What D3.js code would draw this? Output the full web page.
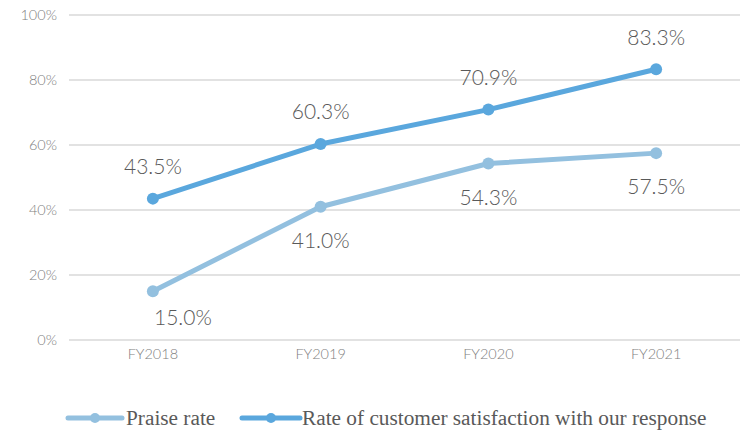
<!DOCTYPE html>
<html>
<head>
<meta charset="utf-8">
<script src="https://cdn.jsdelivr.net/npm/d3@7"></script>
<style>
  html, body { margin: 0; padding: 0; background: #fff; }
  svg { display: block; }
</style>
</head>
<body>
<svg id="chart" width="743" height="430"></svg>
<script>
const categories = ["FY2018", "FY2019", "FY2020", "FY2021"];
const praiseRate = [15.0, 41.0, 54.3, 57.5];
const satisfactionRate = [43.5, 60.3, 70.9, 83.3];
const yTicks = [0, 20, 40, 60, 80, 100];
const seriesNames = ["Praise rate", "Rate of customer satisfaction with our response"];

const svg = d3.select("#chart");
const margin = { left: 69, right: 3, top: 15, bottom: 90 };
const W = 743, H = 430;

const x = d3.scaleBand().domain(categories).range([margin.left, W - margin.right]);
const y = d3.scaleLinear().domain([0, 100]).range([H - margin.bottom, margin.top]);

const axisFont = "Lato, 'Open Sans', sans-serif";

// horizontal grid
svg.append("g")
  .selectAll("line")
  .data(yTicks)
  .join("line")
  .attr("x1", margin.left).attr("x2", W - margin.right)
  .attr("y1", d => y(d)).attr("y2", d => y(d))
  .attr("stroke", "#d9d9d9").attr("stroke-width", 1.3);

// y axis labels
const yAxis = d3.axisLeft(y).tickValues(yTicks).tickFormat(d => d + "%").tickSize(0).tickPadding(12);
const gy = svg.append("g").attr("transform", `translate(${margin.left},0)`).call(yAxis);
gy.select(".domain").remove();
gy.selectAll("text").attr("font-family", axisFont).attr("font-size", 14.5).attr("fill", "#808080").attr("font-weight", 300);

// x axis labels
const xAxis = d3.axisBottom(x).tickSize(0).tickPadding(9);
const gx = svg.append("g").attr("transform", `translate(0,${y(0)})`).call(xAxis);
gx.select(".domain").remove();
gx.selectAll("text").attr("font-family", axisFont).attr("font-size", 14.5).attr("fill", "#808080").attr("font-weight", 300);

const cx = d => x(d) + x.bandwidth() / 2;
const line = d3.line().x(d => cx(d.c)).y(d => y(d.v));

// label placement per series; the first praise label sits to the right of its point
const series = [
  { name: seriesNames[0], values: praiseRate, color: "#93c0df",
    labelDx: i => (i === 0 ? 30 : 0), labelDy: i => (i === 0 ? 26 : 34) },
  { name: seriesNames[1], values: satisfactionRate, color: "#5aa7dd",
    labelDx: () => 0, labelDy: () => -32 }
];

series.forEach(s => {
  const pts = categories.map((c, i) => ({ c, v: s.values[i], i }));
  const g = svg.append("g");
  g.append("path").datum(pts)
    .attr("d", line).attr("fill", "none")
    .attr("stroke", s.color).attr("stroke-width", 5)
    .attr("stroke-linejoin", "round");
  g.selectAll("circle").data(pts).join("circle")
    .attr("cx", d => cx(d.c)).attr("cy", d => y(d.v)).attr("r", 6)
    .attr("fill", s.color);
  g.selectAll("text").data(pts).join("text")
    .attr("x", d => cx(d.c) + s.labelDx(d.i)).attr("y", d => y(d.v) + s.labelDy(d.i))
    .attr("dy", "0.35em")
    .attr("text-anchor", "middle")
    .attr("font-family", axisFont).attr("font-size", 21).attr("font-weight", 300)
    .attr("fill", "#595959")
    .text(d => d.v.toFixed(1) + "%");
});

// legend
const legendY = 418;
const legendItems = [
  { x0: 68, x1: 122, tx: 126, s: series[0] },
  { x0: 242, x1: 300, tx: 302, s: series[1] }
];
const lg = svg.append("g");
legendItems.forEach(it => {
  lg.append("line").attr("x1", it.x0).attr("x2", it.x1)
    .attr("y1", legendY).attr("y2", legendY)
    .attr("stroke", it.s.color).attr("stroke-width", 5).attr("stroke-linecap", "round");
  lg.append("circle").attr("cx", (it.x0 + it.x1) / 2).attr("cy", legendY).attr("r", 5).attr("fill", it.s.color);
  lg.append("text").attr("x", it.tx).attr("y", legendY).attr("dy", "0.33em")
    .attr("font-family", "'Liberation Serif', 'Times New Roman', serif")
    .attr("font-size", 21.3).attr("fill", "#595959")
    .text(it.s.name);
});
</script>
</body>
</html>
